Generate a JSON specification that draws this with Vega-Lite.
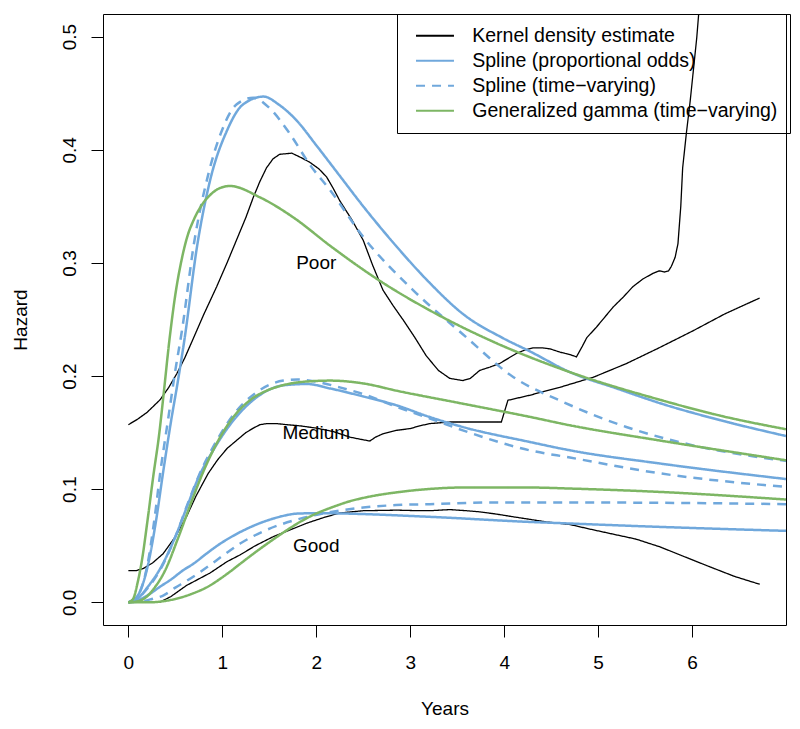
{
  "$schema": "https://vega.github.io/schema/vega-lite/v6.json",
  "width": 683,
  "height": 611,
  "autosize": {"type": "none"},
  "padding": {"left": 103, "top": 14, "right": 14, "bottom": 104},
  "background": "white",
  "config": {
    "view": {"stroke": "black", "strokeWidth": 1},
    "font": "Liberation Sans",
    "axis": {"labelFont": "Liberation Sans", "titleFont": "Liberation Sans", "labelFontSize": 19, "titleFontSize": 19, "titleFontWeight": "normal", "labelColor": "black", "titleColor": "black", "tickColor": "black", "tickSize": 12, "tickWidth": 1, "grid": false, "domain": false},
    "legend": {"labelFont": "Liberation Sans", "labelFontSize": 19.5, "labelColor": "black"}
  },
  "datasets": {
    "curves": [
      {"m":"K","g":"P","x":0,"y":0.157},{"m":"K","g":"P","x":0.1,"y":0.162},{"m":"K","g":"P","x":0.2,"y":0.168},{"m":"K","g":"P","x":0.337,"y":0.179},{"m":"K","g":"P","x":0.43,"y":0.19},{"m":"K","g":"P","x":0.515,"y":0.202},{"m":"K","g":"P","x":0.6,"y":0.216},{"m":"K","g":"P","x":0.69,"y":0.233},{"m":"K","g":"P","x":0.8,"y":0.254},{"m":"K","g":"P","x":0.94,"y":0.279},{"m":"K","g":"P","x":1.05,"y":0.3},{"m":"K","g":"P","x":1.15,"y":0.32},{"m":"K","g":"P","x":1.25,"y":0.34},{"m":"K","g":"P","x":1.33,"y":0.358},{"m":"K","g":"P","x":1.4,"y":0.372},{"m":"K","g":"P","x":1.47,"y":0.384},{"m":"K","g":"P","x":1.54,"y":0.392},{"m":"K","g":"P","x":1.61,"y":0.396},{"m":"K","g":"P","x":1.74,"y":0.397},{"m":"K","g":"P","x":1.84,"y":0.393},{"m":"K","g":"P","x":1.93,"y":0.389},{"m":"K","g":"P","x":2.03,"y":0.383},{"m":"K","g":"P","x":2.11,"y":0.376},{"m":"K","g":"P","x":2.18,"y":0.366},{"m":"K","g":"P","x":2.25,"y":0.355},{"m":"K","g":"P","x":2.38,"y":0.338},{"m":"K","g":"P","x":2.5,"y":0.32},{"m":"K","g":"P","x":2.6,"y":0.298},{"m":"K","g":"P","x":2.71,"y":0.276},{"m":"K","g":"P","x":2.82,"y":0.262},{"m":"K","g":"P","x":2.93,"y":0.249},{"m":"K","g":"P","x":3.05,"y":0.234},{"m":"K","g":"P","x":3.17,"y":0.218},{"m":"K","g":"P","x":3.3,"y":0.205},{"m":"K","g":"P","x":3.42,"y":0.198},{"m":"K","g":"P","x":3.56,"y":0.196},{"m":"K","g":"P","x":3.64,"y":0.198},{"m":"K","g":"P","x":3.74,"y":0.205},{"m":"K","g":"P","x":3.85,"y":0.208},{"m":"K","g":"P","x":3.95,"y":0.211},{"m":"K","g":"P","x":4.05,"y":0.216},{"m":"K","g":"P","x":4.13,"y":0.22},{"m":"K","g":"P","x":4.22,"y":0.223},{"m":"K","g":"P","x":4.31,"y":0.225},{"m":"K","g":"P","x":4.4,"y":0.225},{"m":"K","g":"P","x":4.49,"y":0.224},{"m":"K","g":"P","x":4.6,"y":0.221},{"m":"K","g":"P","x":4.7,"y":0.219},{"m":"K","g":"P","x":4.77,"y":0.217},{"m":"K","g":"P","x":4.83,"y":0.226},{"m":"K","g":"P","x":4.88,"y":0.234},{"m":"K","g":"P","x":4.98,"y":0.243},{"m":"K","g":"P","x":5.07,"y":0.252},{"m":"K","g":"P","x":5.16,"y":0.261},{"m":"K","g":"P","x":5.27,"y":0.27},{"m":"K","g":"P","x":5.37,"y":0.279},{"m":"K","g":"P","x":5.48,"y":0.286},{"m":"K","g":"P","x":5.59,"y":0.291},{"m":"K","g":"P","x":5.65,"y":0.293},{"m":"K","g":"P","x":5.71,"y":0.292},{"m":"K","g":"P","x":5.75,"y":0.293},{"m":"K","g":"P","x":5.78,"y":0.297},{"m":"K","g":"P","x":5.82,"y":0.305},{"m":"K","g":"P","x":5.85,"y":0.317},{"m":"K","g":"P","x":5.88,"y":0.35},{"m":"K","g":"P","x":5.9,"y":0.384},{"m":"K","g":"P","x":5.94,"y":0.415},{"m":"K","g":"P","x":5.98,"y":0.443},{"m":"K","g":"P","x":6.02,"y":0.475},{"m":"K","g":"P","x":6.05,"y":0.499},{"m":"K","g":"P","x":6.1,"y":0.55},
      {"m":"K","g":"M","x":0,"y":0.028},{"m":"K","g":"M","x":0.08,"y":0.028},{"m":"K","g":"M","x":0.16,"y":0.03},{"m":"K","g":"M","x":0.26,"y":0.035},{"m":"K","g":"M","x":0.37,"y":0.043},{"m":"K","g":"M","x":0.5,"y":0.058},{"m":"K","g":"M","x":0.62,"y":0.076},{"m":"K","g":"M","x":0.72,"y":0.094},{"m":"K","g":"M","x":0.85,"y":0.114},{"m":"K","g":"M","x":0.95,"y":0.126},{"m":"K","g":"M","x":1.05,"y":0.136},{"m":"K","g":"M","x":1.15,"y":0.143},{"m":"K","g":"M","x":1.25,"y":0.15},{"m":"K","g":"M","x":1.33,"y":0.154},{"m":"K","g":"M","x":1.4,"y":0.157},{"m":"K","g":"M","x":1.47,"y":0.158},{"m":"K","g":"M","x":1.58,"y":0.158},{"m":"K","g":"M","x":1.69,"y":0.157},{"m":"K","g":"M","x":1.83,"y":0.156},{"m":"K","g":"M","x":2.0,"y":0.154},{"m":"K","g":"M","x":2.18,"y":0.151},{"m":"K","g":"M","x":2.36,"y":0.146},{"m":"K","g":"M","x":2.48,"y":0.144},{"m":"K","g":"M","x":2.57,"y":0.1426},{"m":"K","g":"M","x":2.63,"y":0.146},{"m":"K","g":"M","x":2.71,"y":0.149},{"m":"K","g":"M","x":2.85,"y":0.152},{"m":"K","g":"M","x":3.0,"y":0.1536},{"m":"K","g":"M","x":3.1,"y":0.156},{"m":"K","g":"M","x":3.21,"y":0.158},{"m":"K","g":"M","x":3.42,"y":0.1594},{"m":"K","g":"M","x":3.97,"y":0.1594},{"m":"K","g":"M","x":4.04,"y":0.1786},{"m":"K","g":"M","x":4.27,"y":0.183},{"m":"K","g":"M","x":4.59,"y":0.19},{"m":"K","g":"M","x":4.95,"y":0.199},{"m":"K","g":"M","x":5.3,"y":0.211},{"m":"K","g":"M","x":5.65,"y":0.225},{"m":"K","g":"M","x":6.01,"y":0.24},{"m":"K","g":"M","x":6.35,"y":0.255},{"m":"K","g":"M","x":6.72,"y":0.269},
      {"m":"K","g":"G","x":0.33,"y":0},{"m":"K","g":"G","x":0.45,"y":0.005},{"m":"K","g":"G","x":0.62,"y":0.015},{"m":"K","g":"G","x":0.87,"y":0.026},{"m":"K","g":"G","x":1.05,"y":0.036},{"m":"K","g":"G","x":1.19,"y":0.042},{"m":"K","g":"G","x":1.35,"y":0.05},{"m":"K","g":"G","x":1.54,"y":0.058},{"m":"K","g":"G","x":1.72,"y":0.064},{"m":"K","g":"G","x":1.9,"y":0.07},{"m":"K","g":"G","x":2.08,"y":0.075},{"m":"K","g":"G","x":2.25,"y":0.079},{"m":"K","g":"G","x":2.5,"y":0.081},{"m":"K","g":"G","x":2.86,"y":0.0815},{"m":"K","g":"G","x":3.1,"y":0.081},{"m":"K","g":"G","x":3.21,"y":0.081},{"m":"K","g":"G","x":3.42,"y":0.082},{"m":"K","g":"G","x":3.6,"y":0.081},{"m":"K","g":"G","x":3.74,"y":0.08},{"m":"K","g":"G","x":3.92,"y":0.078},{"m":"K","g":"G","x":4.1,"y":0.0756},{"m":"K","g":"G","x":4.45,"y":0.0711},{"m":"K","g":"G","x":4.7,"y":0.0688},{"m":"K","g":"G","x":4.9,"y":0.065},{"m":"K","g":"G","x":5.12,"y":0.061},{"m":"K","g":"G","x":5.4,"y":0.056},{"m":"K","g":"G","x":5.66,"y":0.049},{"m":"K","g":"G","x":5.93,"y":0.04},{"m":"K","g":"G","x":6.19,"y":0.0314},{"m":"K","g":"G","x":6.45,"y":0.023},{"m":"K","g":"G","x":6.72,"y":0.016},
      {"m":"SPO","g":"P","x":0,"y":0},{"m":"SPO","g":"P","x":0.1,"y":0.006},{"m":"SPO","g":"P","x":0.2,"y":0.03},{"m":"SPO","g":"P","x":0.3,"y":0.075},{"m":"SPO","g":"P","x":0.37,"y":0.115},{"m":"SPO","g":"P","x":0.45,"y":0.158},{"m":"SPO","g":"P","x":0.53,"y":0.197},{"m":"SPO","g":"P","x":0.6,"y":0.234},{"m":"SPO","g":"P","x":0.73,"y":0.314},{"m":"SPO","g":"P","x":0.87,"y":0.373},{"m":"SPO","g":"P","x":1.05,"y":0.417},{"m":"SPO","g":"P","x":1.22,"y":0.44},{"m":"SPO","g":"P","x":1.44,"y":0.447},{"m":"SPO","g":"P","x":1.6,"y":0.44},{"m":"SPO","g":"P","x":1.79,"y":0.426},{"m":"SPO","g":"P","x":2.0,"y":0.404},{"m":"SPO","g":"P","x":2.25,"y":0.377},{"m":"SPO","g":"P","x":2.5,"y":0.35},{"m":"SPO","g":"P","x":2.86,"y":0.314},{"m":"SPO","g":"P","x":3.2,"y":0.283},{"m":"SPO","g":"P","x":3.56,"y":0.255},{"m":"SPO","g":"P","x":4.0,"y":0.233},{"m":"SPO","g":"P","x":4.27,"y":0.222},{"m":"SPO","g":"P","x":4.7,"y":0.2035},{"m":"SPO","g":"P","x":5.2,"y":0.189},{"m":"SPO","g":"P","x":5.66,"y":0.176},{"m":"SPO","g":"P","x":6.3,"y":0.161},{"m":"SPO","g":"P","x":7.0,"y":0.147},
      {"m":"SPO","g":"M","x":0,"y":0},{"m":"SPO","g":"M","x":0.12,"y":0.005},{"m":"SPO","g":"M","x":0.2,"y":0.013},{"m":"SPO","g":"M","x":0.34,"y":0.03},{"m":"SPO","g":"M","x":0.5,"y":0.058},{"m":"SPO","g":"M","x":0.64,"y":0.088},{"m":"SPO","g":"M","x":0.745,"y":0.11},{"m":"SPO","g":"M","x":0.9,"y":0.134},{"m":"SPO","g":"M","x":1.12,"y":0.161},{"m":"SPO","g":"M","x":1.37,"y":0.1815},{"m":"SPO","g":"M","x":1.65,"y":0.1918},{"m":"SPO","g":"M","x":1.9,"y":0.193},{"m":"SPO","g":"M","x":2.15,"y":0.189},{"m":"SPO","g":"M","x":2.5,"y":0.182},{"m":"SPO","g":"M","x":2.86,"y":0.174},{"m":"SPO","g":"M","x":3.2,"y":0.164},{"m":"SPO","g":"M","x":3.56,"y":0.155},{"m":"SPO","g":"M","x":4.27,"y":0.1418},{"m":"SPO","g":"M","x":4.7,"y":0.1344},{"m":"SPO","g":"M","x":5.66,"y":0.1227},{"m":"SPO","g":"M","x":7.0,"y":0.109},
      {"m":"SPO","g":"G","x":0,"y":0},{"m":"SPO","g":"G","x":0.1,"y":0.002},{"m":"SPO","g":"G","x":0.2,"y":0.006},{"m":"SPO","g":"G","x":0.34,"y":0.014},{"m":"SPO","g":"G","x":0.45,"y":0.02},{"m":"SPO","g":"G","x":0.585,"y":0.0285},{"m":"SPO","g":"G","x":0.69,"y":0.034},{"m":"SPO","g":"G","x":0.83,"y":0.043},{"m":"SPO","g":"G","x":0.98,"y":0.052},{"m":"SPO","g":"G","x":1.12,"y":0.059},{"m":"SPO","g":"G","x":1.26,"y":0.065},{"m":"SPO","g":"G","x":1.4,"y":0.07},{"m":"SPO","g":"G","x":1.54,"y":0.074},{"m":"SPO","g":"G","x":1.83,"y":0.0786},{"m":"SPO","g":"G","x":2.1,"y":0.0788},{"m":"SPO","g":"G","x":2.25,"y":0.0786},{"m":"SPO","g":"G","x":3.21,"y":0.0756},{"m":"SPO","g":"G","x":4.27,"y":0.0711},{"m":"SPO","g":"G","x":4.7,"y":0.0697},{"m":"SPO","g":"G","x":5.66,"y":0.0667},{"m":"SPO","g":"G","x":7.0,"y":0.0632},
      {"m":"STV","g":"P","x":0,"y":0},{"m":"STV","g":"P","x":0.1,"y":0.006},{"m":"STV","g":"P","x":0.2,"y":0.032},{"m":"STV","g":"P","x":0.28,"y":0.075},{"m":"STV","g":"P","x":0.34,"y":0.115},{"m":"STV","g":"P","x":0.42,"y":0.16},{"m":"STV","g":"P","x":0.5,"y":0.205},{"m":"STV","g":"P","x":0.57,"y":0.24},{"m":"STV","g":"P","x":0.7,"y":0.318},{"m":"STV","g":"P","x":0.85,"y":0.378},{"m":"STV","g":"P","x":1.0,"y":0.418},{"m":"STV","g":"P","x":1.15,"y":0.44},{"m":"STV","g":"P","x":1.33,"y":0.446},{"m":"STV","g":"P","x":1.5,"y":0.437},{"m":"STV","g":"P","x":1.72,"y":0.414},{"m":"STV","g":"P","x":1.93,"y":0.387},{"m":"STV","g":"P","x":2.15,"y":0.364},{"m":"STV","g":"P","x":2.5,"y":0.323},{"m":"STV","g":"P","x":3.03,"y":0.276},{"m":"STV","g":"P","x":3.56,"y":0.237},{"m":"STV","g":"P","x":4.1,"y":0.199},{"m":"STV","g":"P","x":4.63,"y":0.177},{"m":"STV","g":"P","x":5.3,"y":0.155},{"m":"STV","g":"P","x":6.0,"y":0.139},{"m":"STV","g":"P","x":7.0,"y":0.125},
      {"m":"STV","g":"M","x":0,"y":0},{"m":"STV","g":"M","x":0.12,"y":0.005},{"m":"STV","g":"M","x":0.2,"y":0.012},{"m":"STV","g":"M","x":0.34,"y":0.029},{"m":"STV","g":"M","x":0.5,"y":0.058},{"m":"STV","g":"M","x":0.64,"y":0.089},{"m":"STV","g":"M","x":0.75,"y":0.112},{"m":"STV","g":"M","x":0.9,"y":0.137},{"m":"STV","g":"M","x":1.12,"y":0.166},{"m":"STV","g":"M","x":1.37,"y":0.186},{"m":"STV","g":"M","x":1.65,"y":0.196},{"m":"STV","g":"M","x":1.8,"y":0.197},{"m":"STV","g":"M","x":2.0,"y":0.195},{"m":"STV","g":"M","x":2.25,"y":0.19},{"m":"STV","g":"M","x":2.5,"y":0.184},{"m":"STV","g":"M","x":2.86,"y":0.1726},{"m":"STV","g":"M","x":3.21,"y":0.1625},{"m":"STV","g":"M","x":3.56,"y":0.152},{"m":"STV","g":"M","x":4.27,"y":0.1344},{"m":"STV","g":"M","x":4.7,"y":0.128},{"m":"STV","g":"M","x":5.66,"y":0.114},{"m":"STV","g":"M","x":7.0,"y":0.102},
      {"m":"STV","g":"G","x":0,"y":0},{"m":"STV","g":"G","x":0.15,"y":0.001},{"m":"STV","g":"G","x":0.25,"y":0.003},{"m":"STV","g":"G","x":0.37,"y":0.006},{"m":"STV","g":"G","x":0.5,"y":0.013},{"m":"STV","g":"G","x":0.62,"y":0.019},{"m":"STV","g":"G","x":0.75,"y":0.026},{"m":"STV","g":"G","x":0.87,"y":0.033},{"m":"STV","g":"G","x":1.0,"y":0.041},{"m":"STV","g":"G","x":1.19,"y":0.052},{"m":"STV","g":"G","x":1.47,"y":0.064},{"m":"STV","g":"G","x":1.83,"y":0.074},{"m":"STV","g":"G","x":2.1,"y":0.079},{"m":"STV","g":"G","x":2.5,"y":0.0838},{"m":"STV","g":"G","x":2.85,"y":0.086},{"m":"STV","g":"G","x":3.21,"y":0.0868},{"m":"STV","g":"G","x":3.92,"y":0.0883},{"m":"STV","g":"G","x":4.7,"y":0.0883},{"m":"STV","g":"G","x":5.66,"y":0.088},{"m":"STV","g":"G","x":7.0,"y":0.0868},
      {"m":"GG","g":"P","x":0,"y":0},{"m":"GG","g":"P","x":0.05,"y":0.003},{"m":"GG","g":"P","x":0.1,"y":0.018},{"m":"GG","g":"P","x":0.15,"y":0.04},{"m":"GG","g":"P","x":0.2,"y":0.07},{"m":"GG","g":"P","x":0.266,"y":0.112},{"m":"GG","g":"P","x":0.33,"y":0.15},{"m":"GG","g":"P","x":0.37,"y":0.18},{"m":"GG","g":"P","x":0.44,"y":0.234},{"m":"GG","g":"P","x":0.5,"y":0.272},{"m":"GG","g":"P","x":0.57,"y":0.304},{"m":"GG","g":"P","x":0.63,"y":0.324},{"m":"GG","g":"P","x":0.69,"y":0.337},{"m":"GG","g":"P","x":0.78,"y":0.351},{"m":"GG","g":"P","x":0.87,"y":0.36},{"m":"GG","g":"P","x":0.97,"y":0.366},{"m":"GG","g":"P","x":1.08,"y":0.368},{"m":"GG","g":"P","x":1.4,"y":0.358},{"m":"GG","g":"P","x":1.76,"y":0.34},{"m":"GG","g":"P","x":2.15,"y":0.315},{"m":"GG","g":"P","x":2.68,"y":0.284},{"m":"GG","g":"P","x":3.21,"y":0.258},{"m":"GG","g":"P","x":3.92,"y":0.229},{"m":"GG","g":"P","x":4.7,"y":0.2035},{"m":"GG","g":"P","x":5.66,"y":0.179},{"m":"GG","g":"P","x":6.3,"y":0.165},{"m":"GG","g":"P","x":7.0,"y":0.153},
      {"m":"GG","g":"M","x":0,"y":0},{"m":"GG","g":"M","x":0.1,"y":0.001},{"m":"GG","g":"M","x":0.195,"y":0.005},{"m":"GG","g":"M","x":0.27,"y":0.012},{"m":"GG","g":"M","x":0.39,"y":0.028},{"m":"GG","g":"M","x":0.53,"y":0.057},{"m":"GG","g":"M","x":0.69,"y":0.093},{"m":"GG","g":"M","x":0.78,"y":0.112},{"m":"GG","g":"M","x":0.9,"y":0.134},{"m":"GG","g":"M","x":1.12,"y":0.164},{"m":"GG","g":"M","x":1.3,"y":0.179},{"m":"GG","g":"M","x":1.47,"y":0.187},{"m":"GG","g":"M","x":1.65,"y":0.192},{"m":"GG","g":"M","x":1.83,"y":0.1947},{"m":"GG","g":"M","x":2.15,"y":0.196},{"m":"GG","g":"M","x":2.5,"y":0.1935},{"m":"GG","g":"M","x":2.86,"y":0.187},{"m":"GG","g":"M","x":3.56,"y":0.1756},{"m":"GG","g":"M","x":4.27,"y":0.164},{"m":"GG","g":"M","x":4.7,"y":0.1565},{"m":"GG","g":"M","x":5.66,"y":0.143},{"m":"GG","g":"M","x":7.0,"y":0.1256},
      {"m":"GG","g":"G","x":0,"y":0},{"m":"GG","g":"G","x":0.2,"y":0},{"m":"GG","g":"G","x":0.37,"y":0.001},{"m":"GG","g":"G","x":0.5,"y":0.003},{"m":"GG","g":"G","x":0.69,"y":0.008},{"m":"GG","g":"G","x":0.85,"y":0.014},{"m":"GG","g":"G","x":0.98,"y":0.021},{"m":"GG","g":"G","x":1.08,"y":0.027},{"m":"GG","g":"G","x":1.22,"y":0.036},{"m":"GG","g":"G","x":1.38,"y":0.046},{"m":"GG","g":"G","x":1.54,"y":0.0555},{"m":"GG","g":"G","x":1.7,"y":0.0645},{"m":"GG","g":"G","x":1.85,"y":0.0722},{"m":"GG","g":"G","x":2.0,"y":0.0785},{"m":"GG","g":"G","x":2.18,"y":0.0844},{"m":"GG","g":"G","x":2.35,"y":0.0892},{"m":"GG","g":"G","x":2.54,"y":0.093},{"m":"GG","g":"G","x":2.89,"y":0.0976},{"m":"GG","g":"G","x":3.2,"y":0.1002},{"m":"GG","g":"G","x":3.56,"y":0.1015},{"m":"GG","g":"G","x":4.27,"y":0.1015},{"m":"GG","g":"G","x":4.7,"y":0.1006},{"m":"GG","g":"G","x":5.66,"y":0.0976},{"m":"GG","g":"G","x":7.0,"y":0.0909}
    ],
    "labels": [
      {"label": "Poor", "x": 2.0, "y": 0.3},
      {"label": "Medium", "x": 2.0, "y": 0.15},
      {"label": "Good", "x": 2.0, "y": 0.05}
    ]
  },
  "encoding": {
    "x": {"field": "x", "type": "quantitative", "scale": {"domain": [-0.27, 7.0], "nice": false, "zero": false},
      "axis": {"values": [0, 1, 2, 3, 4, 5, 6], "title": "Years", "labelPadding": 16.5, "titlePadding": 27, "labelFlush": false}},
    "y": {"field": "y", "type": "quantitative", "scale": {"domain": [-0.02, 0.52], "nice": false, "zero": false},
      "axis": {"values": [0, 0.1, 0.2, 0.3, 0.4, 0.5], "format": ".1f", "title": "Hazard", "labelAngle": 270, "labelAlign": "center", "labelBaseline": "alphabetic", "labelPadding": 16, "titlePadding": 30}}
  },
  "layer": [
    {
      "data": {"name": "curves"},
      "transform": [{"filter": "datum.m == 'K'"}],
      "mark": {"type": "line", "strokeWidth": 1.3, "clip": true, "interpolate": "linear"},
      "encoding": {
        "detail": {"field": "g", "type": "nominal"},
        "color": {"field": "m", "type": "nominal", "scale": {"domain": ["K", "SPO", "STV", "GG"], "range": ["#000000", "#70A8DC", "#70A8DC", "#7DB664"]},
          "legend": {"orient": "none", "legendX": 294, "legendY": 0, "title": null, "symbolType": "M-4,0H4", "symbolSize": 90, "symbolStrokeWidth": 2.2, "strokeColor": "black", "fillColor": null, "padding": 12, "rowPadding": 4, "labelOffset": 27.5, "symbolOffset": 16.25, "labelLimit": 500,
            "labelExpr": "datum.label == 'K' ? 'Kernel density estimate' : datum.label == 'SPO' ? 'Spline (proportional odds)' : datum.label == 'STV' ? 'Spline (time\u2212varying)' : 'Generalized gamma (time\u2212varying)'"}},
        "strokeDash": {"field": "m", "type": "nominal", "scale": {"domain": ["K", "SPO", "STV", "GG"], "range": [[1, 0], [1, 0], [9, 7], [1, 0]]},
          "legend": {"orient": "none", "legendX": 294, "legendY": 0, "title": null, "symbolType": "M-4,0H4", "symbolSize": 90, "symbolStrokeWidth": 2.2, "strokeColor": "black", "fillColor": null, "padding": 12, "rowPadding": 4, "labelOffset": 27.5, "symbolOffset": 16.25, "labelLimit": 500,
            "labelExpr": "datum.label == 'K' ? 'Kernel density estimate' : datum.label == 'SPO' ? 'Spline (proportional odds)' : datum.label == 'STV' ? 'Spline (time\u2212varying)' : 'Generalized gamma (time\u2212varying)'"}}
      }
    },
    {
      "data": {"name": "curves"},
      "transform": [{"filter": "datum.m != 'K'"}],
      "mark": {"type": "line", "strokeWidth": 2.5, "clip": true, "interpolate": "monotone"},
      "encoding": {
        "detail": {"field": "g", "type": "nominal"},
        "color": {"field": "m", "type": "nominal"},
        "strokeDash": {"field": "m", "type": "nominal"}
      }
    },
    {
      "data": {"name": "labels"},
      "mark": {"type": "text", "font": "Liberation Sans", "fontSize": 19, "color": "black", "align": "center", "baseline": "middle"},
      "encoding": {
        "text": {"field": "label", "type": "nominal"}
      }
    }
  ]
}
